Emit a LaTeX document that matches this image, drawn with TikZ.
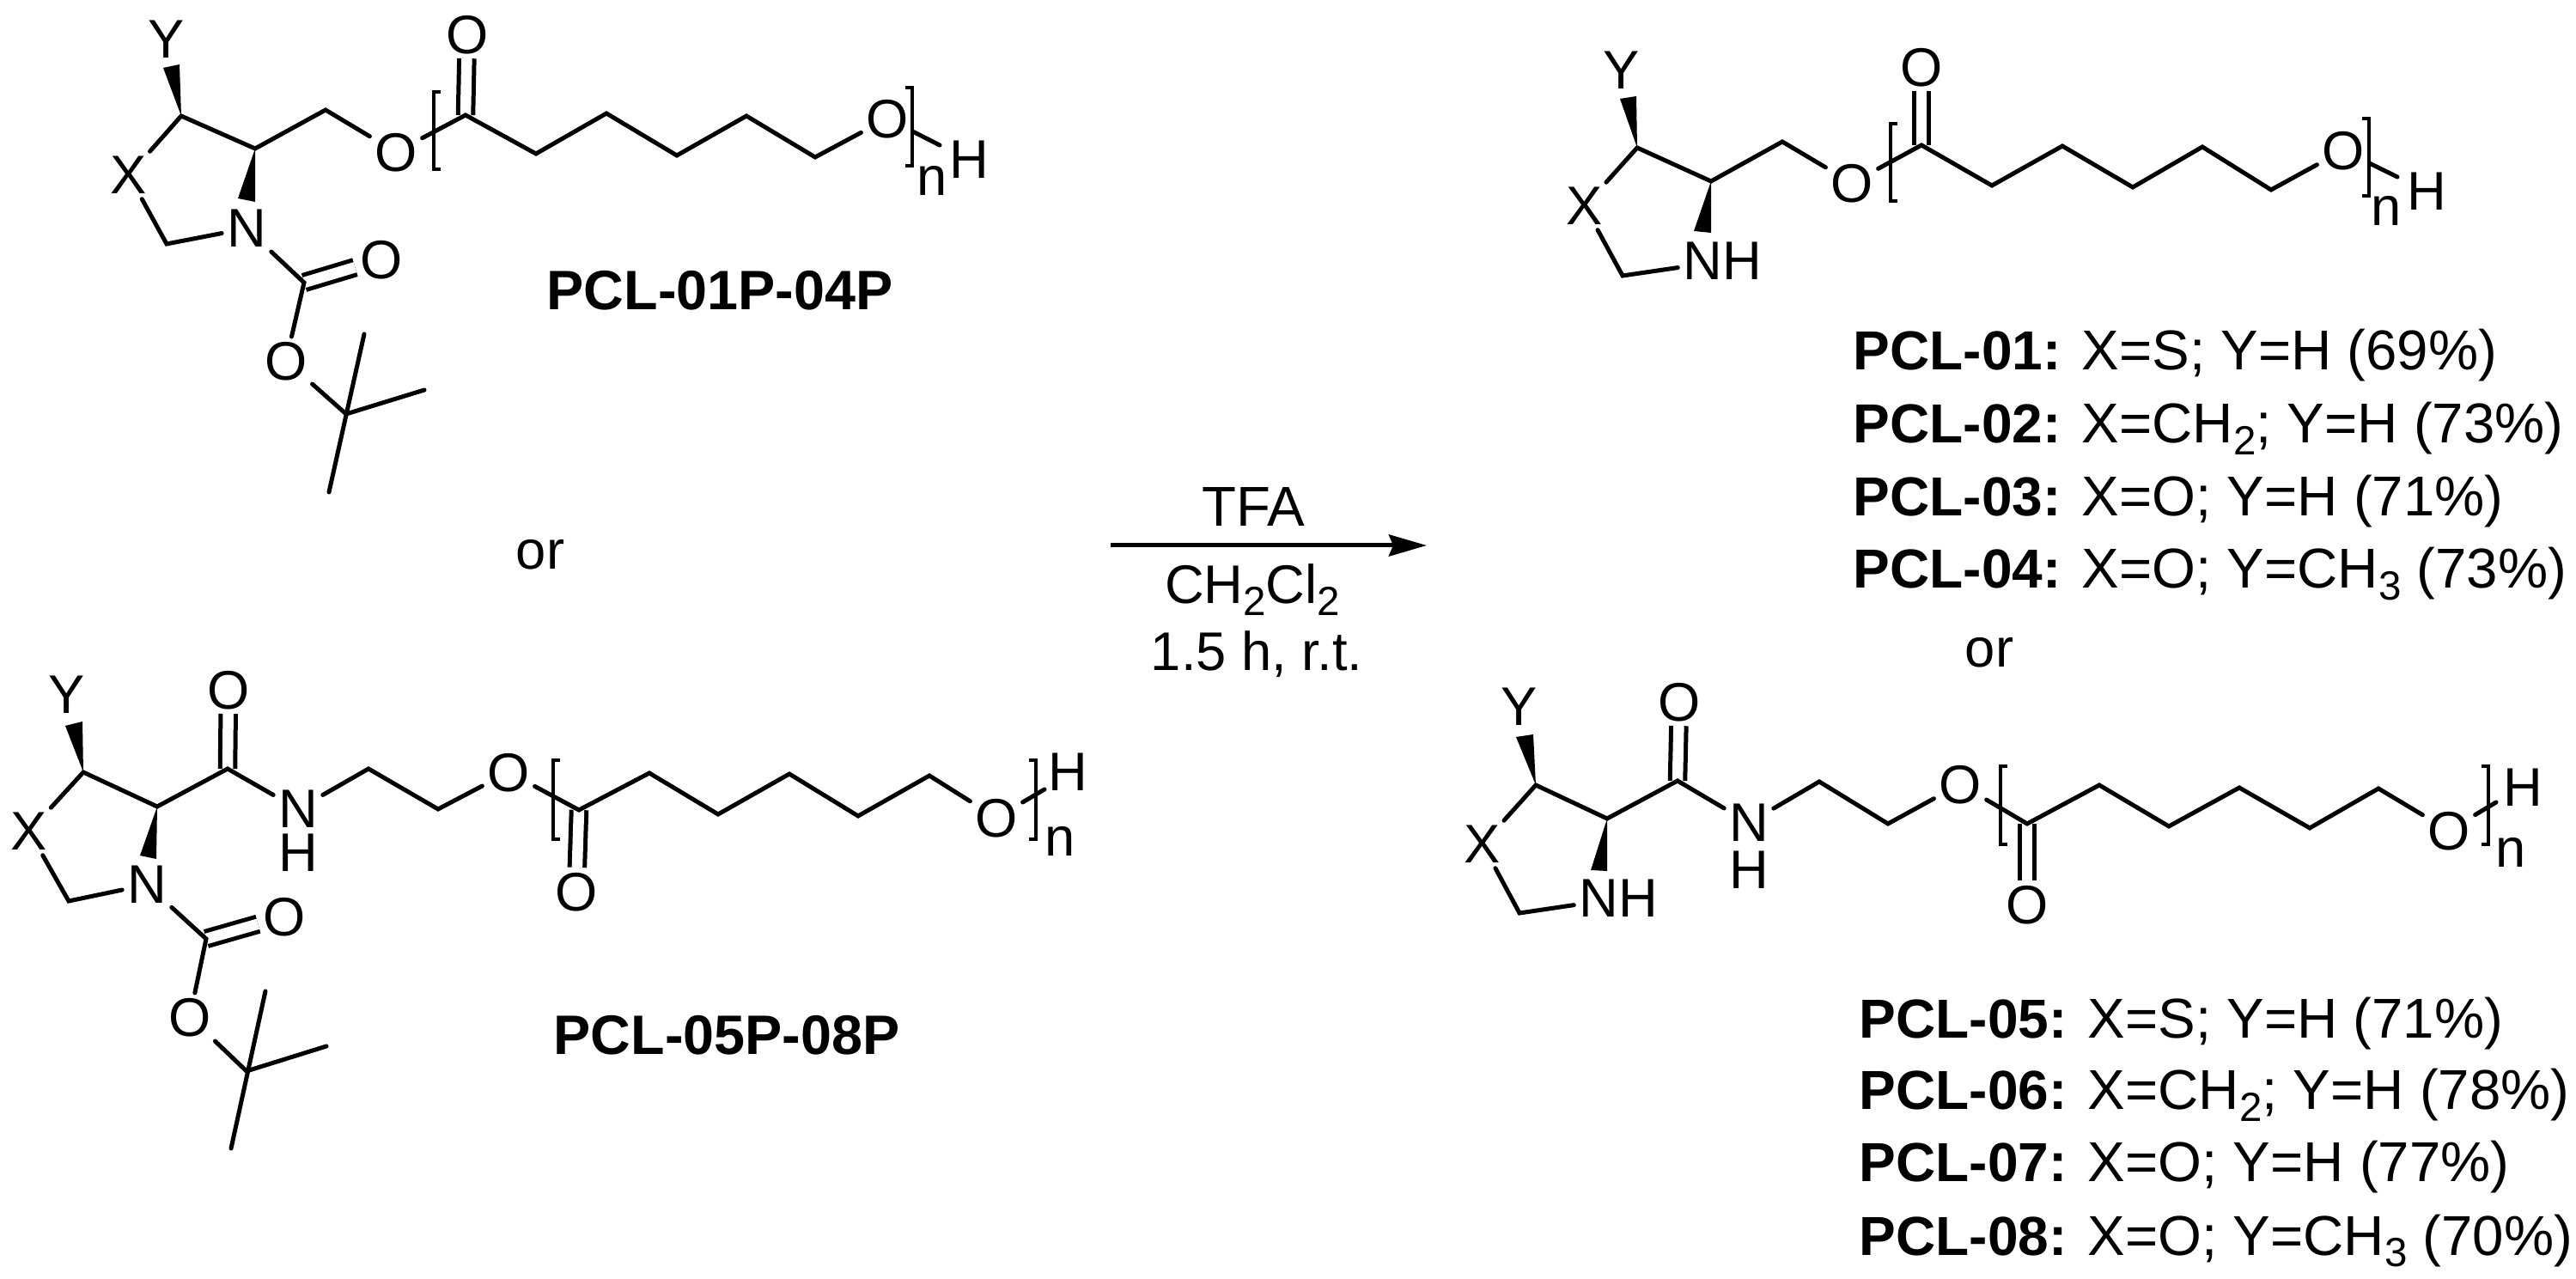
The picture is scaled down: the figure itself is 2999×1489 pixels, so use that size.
\documentclass[tikz,border=0pt]{standalone}
\usepackage{fontspec}
\setmainfont{Liberation Sans}
\usetikzlibrary{arrows.meta}
\newcommand{\chemsub}[1]{\raisebox{-3.8pt}{\fontsize{13.5}{14}\selectfont #1}}
\newcommand{\rowname}[1]{{\fontsize{18.2}{18}\selectfont\textbf{#1}}}
\tikzset{
  atom/.style={font=\fontsize{18}{18}\selectfont,inner sep=1.5pt,text depth=0pt},
  agent/.style={font=\fontsize{18.6}{18}\selectfont,inner sep=1.5pt,text depth=0pt},
  row/.style={font=\fontsize{18.6}{18}\selectfont,inner sep=0pt,anchor=base west},
  title/.style={font=\fontsize{18.4}{18}\selectfont\bfseries,inner sep=0pt},
  bond/.style={line width=0.05cm,line cap=round},
  dbond/.style={line width=0.05cm,double,double distance=0.125cm},
  bracket/.style={line width=0.04cm}
}
\begin{document}
\begin{tikzpicture}[x=0.01cm,y=-0.01cm]
            \useasboundingbox (0,0) rectangle (2999,1489);

            % Marking atoms of PCL-01P-04P
            \node [atom] (paY) at (194,46) {Y};%
            \node [atom] (paX) at (150,204) {X};%
            \node [atom] (paN) at (287,266) {N};%
            \node [atom] (paO1) at (461,177) {O};%
            \node [atom] (paO2) at (544,40) {O};%
            \node [atom] (paO3) at (1033,138) {O};%
            \node [atom] (paO4) at (444,302) {O};%
            \node [atom] (paO5) at (333,420) {O};%
            \node [atom] (pan) at (1085,210) {n};%
            \node [atom] (paH) at (1128,186) {H};%
            \coordinate (pa5) at (211,135);%
            \coordinate (pa4) at (297,173);%
            \coordinate (pa6) at (379,128);%
            \coordinate (paC0) at (542,134);%
            \coordinate (paC1) at (624,179);%
            \coordinate (paC2) at (706,132);%
            \coordinate (paC3) at (788,181);%
            \coordinate (paC4) at (869,135);%
            \coordinate (paC5) at (949,183);%
            \coordinate (paend) at (1094,169);%
            \coordinate (pa2) at (194,284);%
            \coordinate (paB) at (354,329);%
            \coordinate (paT) at (403,482);%
            \coordinate (paT1) at (424,389);%
            \coordinate (paT2) at (494,454);%
            \coordinate (paT3) at (383,573);%

            % Drawing bonds of PCL-01P-04P
            \draw [dbond] (paC0) -- (paO2);%
            \draw [dbond] (paB) -- (paO4);%
            \draw [bond] (paX) -- (pa5) -- (pa4) -- (pa6) -- (paO1);%
            \draw [bond] (paO1) -- (paC0) -- (paC1) -- (paC2) -- (paC3) -- (paC4) -- (paC5) -- (paO3);%
            \draw [bond] (paO3) -- (paend);%
            \draw [bond] (paX) -- (pa2) -- (paN);%
            \draw [bond] (paN) -- (paB) -- (paO5);%
            \draw [bond] (paO5) -- (paT);%
            \draw [bond] (paT1) -- (paT3);%
            \draw [bond] (paT) -- (paT2);%
            \fill (pa5) -- (190,79) -- (209,75) -- cycle;%
            \fill (pa4) -- (277,231) -- (297,235) -- cycle;%
            \draw [bracket] (513,107) -- (505,107) -- (505,197) -- (513,197);%
            \draw [bracket] (1054,102) -- (1062,102) -- (1062,193) -- (1054,193);%
            \node [title] (palabel) at (838,338) {PCL-01P-04P};%

            % Marking atoms of PCL-05P-08P
            \node [atom] (pbY) at (78,809) {Y};%
            \node [atom] (pbX) at (34,968) {X};%
            \node [atom] (pbN) at (171,1030) {N};%
            \node [atom] (pbNH) at (347,942) {N};%
            \node [atom] (pbH) at (347,993) {H};%
            \node [atom] (pbO1) at (266,803) {O};%
            \node [atom] (pbO2) at (592,899) {O};%
            \node [atom] (pbO3) at (671,1038) {O};%
            \node [atom] (pbO4) at (1160,952) {O};%
            \node [atom] (pbO5) at (331,1067) {O};%
            \node [atom] (pbO6) at (221,1184) {O};%
            \node [atom] (pbn) at (1234,979) {n};%
            \node [atom] (pbHend) at (1243,899) {H};%
            \coordinate (pb5) at (97,899);%
            \coordinate (pb4) at (183,939);%
            \coordinate (pbA) at (265,895);%
            \coordinate (pbE1) at (429,895);%
            \coordinate (pbE2) at (510,942);%
            \coordinate (pbC0) at (674,943);%
            \coordinate (pbC1) at (756,900);%
            \coordinate (pbC2) at (836,948);%
            \coordinate (pbC3) at (919,901);%
            \coordinate (pbC4) at (999,950);%
            \coordinate (pbC5) at (1082,903);%
            \coordinate (pbend) at (1216,919);%
            \coordinate (pb2) at (80,1049);%
            \coordinate (pbB) at (240,1093);%
            \coordinate (pbT) at (287,1247);%
            \coordinate (pbT1) at (309,1154);%
            \coordinate (pbT2) at (380,1218);%
            \coordinate (pbT3) at (269,1337);%

            % Drawing bonds of PCL-05P-08P
            \draw [dbond] (pbA) -- (pbO1);%
            \draw [dbond] (pbC0) -- (pbO3);%
            \draw [dbond] (pbB) -- (pbO5);%
            \draw [bond] (pbX) -- (pb5) -- (pb4) -- (pbA) -- (pbNH);%
            \draw [bond] (pbNH) -- (pbE1) -- (pbE2) -- (pbO2);%
            \draw [bond] (pbO2) -- (pbC0) -- (pbC1) -- (pbC2) -- (pbC3) -- (pbC4) -- (pbC5) -- (pbO4);%
            \draw [bond] (pbO4) -- (pbend);%
            \draw [bond] (pbX) -- (pb2) -- (pbN);%
            \draw [bond] (pbN) -- (pbB) -- (pbO6);%
            \draw [bond] (pbO6) -- (pbT);%
            \draw [bond] (pbT1) -- (pbT3);%
            \draw [bond] (pbT) -- (pbT2);%
            \fill (pb5) -- (76,845) -- (96,840) -- cycle;%
            \fill (pb4) -- (163,996) -- (182,1000) -- cycle;%
            \draw [bracket] (652,885) -- (644,885) -- (644,977) -- (652,977);%
            \draw [bracket] (1198,885) -- (1206,885) -- (1206,977) -- (1198,977);%
            \node [title] (pblabel) at (846,1205) {PCL-05P-08P};%

            % Marking reaction arrow and its texts
            \node [atom] (orleft) at (629,645) {or};%
            \coordinate (arrowstart) at (1293,635);%
            \coordinate (arrowend) at (1661,635);%
            \draw [line width=0.05cm,-{Stealth[length=0.44cm,width=0.25cm,inset=0.05cm]}] (arrowstart) -- (arrowend);%
            \node [agent] (reagent) at (1459,590) {TFA};%
            \node [atom,anchor=base] (solvent) at (1458,703) {CH\chemsub{2}Cl\chemsub{2}};%
            \node [atom,anchor=base] (conditions) at (1463,781) {1.5 h, r.t.};%

            % Marking atoms of PCL-01 to PCL-04
            \node [atom] (qaY) at (1888,82) {Y};%
            \node [atom] (qaX) at (1845,240) {X};%
            \node [atom] (qaN) at (2005,304) {NH};%
            \node [atom] (qaO1) at (2156,213) {O};%
            \node [atom] (qaO2) at (2237,78) {O};%
            \node [atom] (qaO3) at (2728,175) {O};%
            \node [atom] (qan) at (2778,245) {n};%
            \node [atom] (qaH) at (2825,223) {H};%
            \coordinate (qa5) at (1906,172);%
            \coordinate (qa4) at (1992,211);%
            \coordinate (qa6) at (2075,165);%
            \coordinate (qaC0) at (2237,169);%
            \coordinate (qaC1) at (2319,216);%
            \coordinate (qaC2) at (2401,170);%
            \coordinate (qaC3) at (2483,218);%
            \coordinate (qaC4) at (2564,171);%
            \coordinate (qaC5) at (2644,221);%
            \coordinate (qaend) at (2791,206);%
            \coordinate (qa2) at (1889,321);%

            % Drawing bonds of PCL-01 to PCL-04
            \draw [dbond] (qaC0) -- (qaO2);%
            \draw [bond] (qaX) -- (qa5) -- (qa4) -- (qa6) -- (qaO1);%
            \draw [bond] (qaO1) -- (qaC0) -- (qaC1) -- (qaC2) -- (qaC3) -- (qaC4) -- (qaC5) -- (qaO3);%
            \draw [bond] (qaO3) -- (qaend);%
            \draw [bond] (qaX) -- (qa2) -- (qaN);%
            \fill (qa5) -- (1886,115) -- (1905,112) -- cycle;%
            \fill (qa4) -- (1972,269) -- (1992,271) -- cycle;%
            \draw [bracket] (2209,144) -- (2201,144) -- (2201,234) -- (2209,234);%
            \draw [bracket] (2750,138) -- (2758,138) -- (2758,228) -- (2750,228);%

            % Marking rows of PCL-01 to PCL-04
            \node [row] (qarow1) at (2157,431) {\rowname{PCL-01:} X=S; Y=H (69\%)};%
            \node [row] (qarow2) at (2157,516) {\rowname{PCL-02:} X=CH\chemsub{2}; Y=H (73\%)};%
            \node [row] (qarow3) at (2157,601) {\rowname{PCL-03:} X=O; Y=H (71\%)};%
            \node [row] (qarow4) at (2157,685) {\rowname{PCL-04:} X=O; Y=CH\chemsub{3} (73\%)};%
            \node [atom] (orright) at (2316,759) {or};%

            % Marking atoms of PCL-05 to PCL-08
            \node [atom] (qbY) at (1769,823) {Y};%
            \node [atom] (qbX) at (1726,983) {X};%
            \node [atom] (qbN) at (1884,1046) {NH};%
            \node [atom] (qbNH) at (2036,958) {N};%
            \node [atom] (qbH) at (2036,1013) {H};%
            \node [atom] (qbO1) at (1955,817) {O};%
            \node [atom] (qbO2) at (2282,913) {O};%
            \node [atom] (qbO3) at (2360,1053) {O};%
            \node [atom] (qbO4) at (2851,967) {O};%
            \node [atom] (qbn) at (2923,992) {n};%
            \node [atom] (qbHend) at (2937,917) {H};%
            \coordinate (qb5) at (1788,914);%
            \coordinate (qb4) at (1871,953);%
            \coordinate (qbA) at (1953,909);%
            \coordinate (qbE1) at (2118,910);%
            \coordinate (qbE2) at (2198,959);%
            \coordinate (qbC0) at (2360,959);%
            \coordinate (qbC1) at (2444,914);%
            \coordinate (qbC2) at (2525,962);%
            \coordinate (qbC3) at (2607,917);%
            \coordinate (qbC4) at (2689,964);%
            \coordinate (qbC5) at (2769,918);%
            \coordinate (qbend) at (2906,934);%
            \coordinate (qb2) at (1769,1063);%

            % Drawing bonds of PCL-05 to PCL-08
            \draw [dbond] (qbA) -- (qbO1);%
            \draw [dbond] (qbC0) -- (qbO3);%
            \draw [bond] (qbX) -- (qb5) -- (qb4) -- (qbA) -- (qbNH);%
            \draw [bond] (qbNH) -- (qbE1) -- (qbE2) -- (qbO2);%
            \draw [bond] (qbO2) -- (qbC0) -- (qbC1) -- (qbC2) -- (qbC3) -- (qbC4) -- (qbC5) -- (qbO4);%
            \draw [bond] (qbO4) -- (qbend);%
            \draw [bond] (qbX) -- (qb2) -- (qbN);%
            \fill (qb5) -- (1765,858) -- (1785,855) -- cycle;%
            \fill (qb4) -- (1852,1013) -- (1871,1014) -- cycle;%
            \draw [bracket] (2337,892) -- (2329,892) -- (2329,983) -- (2337,983);%
            \draw [bracket] (2889,892) -- (2897,892) -- (2897,983) -- (2889,983);%

            % Marking rows of PCL-05 to PCL-08
            \node [row] (qbrow1) at (2164,1209) {\rowname{PCL-05:} X=S; Y=H (71\%)};%
            \node [row] (qbrow2) at (2164,1292) {\rowname{PCL-06:} X=CH\chemsub{2}; Y=H (78\%)};%
            \node [row] (qbrow3) at (2164,1376) {\rowname{PCL-07:} X=O; Y=H (77\%)};%
            \node [row] (qbrow4) at (2164,1461) {\rowname{PCL-08:} X=O; Y=CH\chemsub{3} (70\%)};%
\end{tikzpicture}
\end{document}
